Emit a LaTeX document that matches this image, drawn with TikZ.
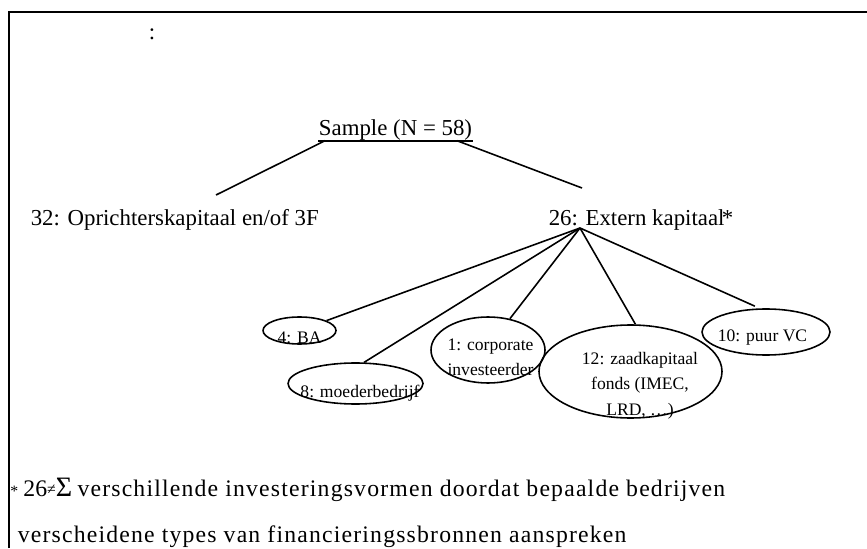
\documentclass[tikz,border=0pt]{standalone}
\usepackage{fontspec}
\setmainfont{Liberation Serif}
\newfontfamily\spaced[LetterSpace=5]{Liberation Serif}
\usepackage{tikz}
\usetikzlibrary{shapes.geometric,calc}

\begin{document}
\begin{tikzpicture}[line width=0.9pt,
    big/.style={font=\fontsize{13}{15}\selectfont,inner sep=0pt},
    oval/.style={draw,ellipse,inner sep=0pt},
    small/.style={font=\fontsize{10}{14.5}\selectfont,align=center,inner sep=0pt},
    foot/.style={font=\fontsize{13.5}{15}\selectfont,inner sep=0pt,anchor=base west}]
    \useasboundingbox (0,0) rectangle (17.34,10.96);
    \draw[line width=0.8pt] (0.18,0) -- (0.18,10.72) -- (17.34,10.72);
    \node[big] (colon) at (3.04,10.28) {:};
    \node[big,anchor=base] (sample) at (7.91,8.26) {Sample (N = 58)};
    \draw[line width=1.3pt] (sample.south west) -- (sample.south east);
    \node[big,anchor=base west] (eigen) at (0.60,6.44) {32: Oprichterskapitaal en/of 3F};
    \node[big,anchor=base west] (extern) at (10.96,6.44) {26: Extern kapitaal\kern-1.5pt*};
    \coordinate (hub) at ([xshift=0.64cm,yshift=-0.04cm]extern.base west);
    \draw ([xshift=0.14cm]sample.south west) -- ([xshift=3.72cm,yshift=0.62cm]eigen.base west);
    \draw ([xshift=-0.32cm]sample.south east) -- ([xshift=0.68cm,yshift=0.76cm]extern.base west);
    \node[oval,minimum width=1.46cm,minimum height=0.54cm] (ba) at (5.99,4.35) {};
    \node[small] (batext) at ([yshift=-0.15cm]ba.center) {4: BA};
    \node[oval,minimum width=2.70cm,minimum height=0.82cm] (moeder) at (7.11,3.29) {};
    \node[small] (moedertext) at ([xshift=0.09cm,yshift=-0.19cm]moeder.center) {8: moederbedrijf};
    \node[oval,minimum width=2.28cm,minimum height=1.32cm] (corp) at (9.76,3.96) {};
    \node[small] (corptext) at ([xshift=0.05cm,yshift=-0.15cm]corp.center) {1: corporate\\investeerder};
    \node[oval,minimum width=3.66cm,minimum height=1.86cm] (zaad) at (12.61,3.53) {};
    \node[small] (zaadtext) at ([xshift=0.19cm,yshift=-0.28cm]zaad.center) {12: zaadkapitaal\\fonds (IMEC,\\LRD, …)};
    \node[oval,minimum width=2.56cm,minimum height=0.92cm] (vc) at (15.32,4.32) {};
    \node[small] (vctext) at ([xshift=-0.07cm,yshift=-0.12cm]vc.center) {10: puur VC};
    \draw (hub) -- (ba);
    \draw (hub) -- (moeder.68);
    \draw (hub) -- (corp.55);
    \draw (hub) -- (zaad.84);
    \draw[shorten >=3pt] (hub) -- (vc.105);
    \node[foot] (note) at (0.19,1.04) {{\fontsize{9}{9}\selectfont*}\hspace{3pt}26{\fontsize{9}{9}\selectfont\raisebox{1pt}{≠}}{\fontsize{16}{16}\selectfont Σ}\hspace{3pt}{\spaced verschillende investeringsvormen doordat bepaalde bedrijven}};
    \node[foot] (note2) at (0.34,0.12) {\spaced verscheidene types van financieringssbronnen aanspreken};
\end{tikzpicture}
\end{document}
